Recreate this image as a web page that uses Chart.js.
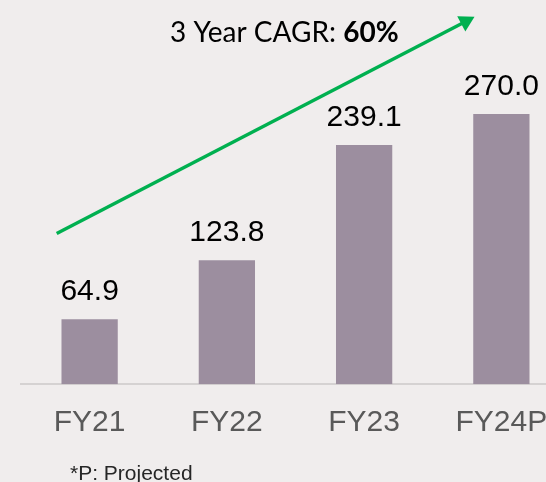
<!DOCTYPE html>
<html>
<head>
<meta charset="utf-8">
<script src="https://cdn.jsdelivr.net/npm/chart.js@4.4.1/dist/chart.umd.min.js"></script>
<style>
  html, body { margin: 0; padding: 0; }
  body {
    width: 546px; height: 482px; overflow: hidden;
    background-color: #f0eded;
  }
  #wrap { width: 580px; height: 482px; }
</style>
</head>
<body>
<div id="wrap"><canvas id="myChart" width="580" height="482"></canvas></div>
<script>
// data
let years = ['FY21', 'FY22', 'FY23', 'FY24P'];
let revenue = [64.9, 123.8, 239.1, 270.0];
// arrow from start to end, in (category position, value) units
let arrowStart = [-0.24, 150.6];
let arrowEnd = [2.74, 362.5];
let cagrText = ['3 Year CAGR: ', '60%'];
let footnote = '*P: Projected';

const barColor = '#9c8e9f';
const green = '#00b050';

// labels above bars + CAGR text + footnote
const textPlugin = {
    id: 'textPlugin',
    afterDatasetsDraw(chart) {
        const ctx = chart.ctx;
        ctx.save();
        const meta = chart.getDatasetMeta(1);
        ctx.font = '30px "Liberation Sans", Arial, sans-serif';
        ctx.fillStyle = '#000';
        ctx.textAlign = 'center';
        ctx.textBaseline = 'alphabetic';
        meta.data.forEach((bar, i) => {
            ctx.fillText(revenue[i].toFixed(1), bar.x, bar.y - 19);
        });

        ctx.textAlign = 'left';
        ctx.font = '28px Lato, "Open Sans", sans-serif';
        let x = 170;
        ctx.fillText(cagrText[0], x, 42);
        x += ctx.measureText(cagrText[0]).width;
        ctx.font = 'bold 28px Lato, "Open Sans", sans-serif';
        ctx.fillText(cagrText[1], x, 42);

        ctx.font = '21px "Liberation Sans", Arial, sans-serif';
        ctx.fillStyle = '#262626';
        ctx.fillText(footnote, 70, 480);
        ctx.restore();
    }
};

new Chart(document.getElementById('myChart'), {
    type: 'bar',
    data: {
        datasets: [{
            type: 'line',
            data: [{x: arrowStart[0], y: arrowStart[1]}, {x: arrowEnd[0], y: arrowEnd[1]}],
            borderColor: green,
            backgroundColor: green,
            borderWidth: 3.5,
            pointStyle: 'triangle',
            pointRadius: [0, 10],
            pointBorderWidth: 0,
            rotation: 62,
            order: 0
        }, {
            data: revenue.map((v, i) => ({x: i, y: v})),
            backgroundColor: barColor,
            barPercentage: 0.41,
            categoryPercentage: 1,
            grouped: false,
            order: 1
        }]
    },
    options: {
        responsive: false,
        animation: false,
        layout: { padding: { left: 21, right: 9, top: 4, bottom: 20.8 } },
        plugins: {
            legend: { display: false },
            tooltip: { enabled: false }
        },
        scales: {
            x: {
                type: 'linear',
                offset: false,
                min: -0.5,
                max: 3.5,
                afterBuildTicks: (scale) => { scale.ticks = years.map((_, i) => ({value: i})); },
                grid: { display: false, drawTicks: false },
                border: { display: true, color: '#d5d2d2', width: 2 },
                ticks: {
                    color: '#595959',
                    padding: 20.5,
                    autoSkip: false,
                    maxRotation: 0,
                    callback: (v) => years[v],
                    font: { size: 30, family: '"Liberation Sans", Arial, sans-serif' }
                }
            },
            y: { display: false, min: 0, max: 374 }
        }
    },
    plugins: [textPlugin]
});
</script>
</body>
</html>
